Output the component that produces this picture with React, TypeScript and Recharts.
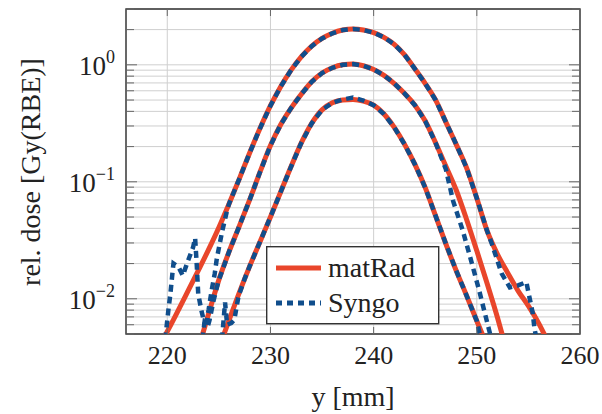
import React from 'react';
import { LineChart, Line, XAxis, YAxis, CartesianGrid, ReferenceArea } from 'recharts';

// lateral position y [mm] -> rel. dose [Gy(RBE)]
const xTicks = [220, 230, 240, 250, 260];
const yTicks = [
  0.005, 0.006, 0.007, 0.008, 0.009,
  0.01, 0.02, 0.03, 0.04, 0.05, 0.06, 0.07, 0.08, 0.09,
  0.1, 0.2, 0.3, 0.4, 0.5, 0.6, 0.7, 0.8, 0.9,
  1, 2, 3,
];
const decades = [0.01, 0.1, 1];
const decadeExp = ['\u22122', '\u22121', '0'];

const matRadHigh = [
  [219.5, 0.00437], [220, 0.00525], [221, 0.00776], [222, 0.0116], [223, 0.0174], [224, 0.0263],
  [225, 0.0407], [226, 0.0653], [227, 0.107], [228, 0.178], [229, 0.288], [230, 0.447],
  [231, 0.653], [232, 0.902], [233, 1.175], [234, 1.445], [235, 1.679], [236, 1.862], [237, 1.982],
  [238, 2.023], [239, 1.986], [240, 1.884], [241, 1.718], [242, 1.496], [243, 1.216], [244, 0.923],
  [245, 0.692], [246, 0.501], [247, 0.324], [248, 0.209], [249, 0.132], [250, 0.0724],
  [251, 0.038], [252, 0.024], [253, 0.0166], [254, 0.0117], [255, 0.0087], [256, 0.00617],
  [256.8, 0.00447],
];
const matRadMid = [
  [223.2, 0.00427], [224, 0.00741], [225, 0.0145], [226, 0.0254], [227, 0.0422], [228, 0.0708],
  [229, 0.122], [230, 0.204], [231, 0.309], [232, 0.427], [233, 0.562], [234, 0.716],
  [235, 0.851], [236, 0.944], [237, 1.0], [238, 1.014], [239, 0.982], [240, 0.912],
  [241, 0.813], [242, 0.692], [243, 0.569], [244, 0.452], [245, 0.331], [246, 0.216],
  [247, 0.136], [248, 0.0851], [249, 0.0479], [250, 0.0257], [251, 0.0135], [252, 0.00692],
  [252.6, 0.00447],
];
const matRadLow = [
  [225.3, 0.00447], [226, 0.0066], [227, 0.0114], [228, 0.0191], [229, 0.0309], [230, 0.0501],
  [231, 0.0822], [232, 0.135], [233, 0.216], [234, 0.316], [235, 0.412], [236, 0.473],
  [237, 0.501], [238, 0.506], [239, 0.49], [240, 0.452], [241, 0.38], [242, 0.292],
  [243, 0.209], [244, 0.141], [245, 0.0891], [246, 0.0513], [247, 0.0295], [248, 0.0174],
  [249, 0.0107], [250, 0.00646], [250.8, 0.00437],
];

const syngoHigh = [
  [219.8, 0.0045], [220.1, 0.0079], [220.3, 0.011], [220.5, 0.0165], [220.6, 0.02], [221.1, 0.0186],
  [221.5, 0.0158], [222, 0.021], [222.5, 0.0275], [222.7, 0.033], [222.85, 0.02], [223, 0.011],
  [223.3, 0.008], [223.6, 0.0062], [223.8, 0.0065], [224, 0.008], [224.3, 0.0118], [224.6, 0.0164],
  [224.8, 0.022], [225.3, 0.037], [225.8, 0.057], [226, 0.0653], [227, 0.107], [228, 0.178],
  [229, 0.288], [230, 0.447], [231, 0.653], [232, 0.902], [233, 1.175], [234, 1.445], [235, 1.679],
  [236, 1.862], [237, 1.982], [238, 2.023], [239, 1.986], [240, 1.884], [241, 1.718], [242, 1.496],
  [243, 1.216], [244, 0.923], [245, 0.692], [246, 0.501], [247, 0.324], [248, 0.209], [249, 0.132],
  [250, 0.0724], [251, 0.038], [251.4, 0.0305], [252.4, 0.0165], [253.2, 0.0125], [254, 0.013],
  [254.8, 0.0139], [255.1, 0.0103], [255.4, 0.0077], [255.6, 0.0055], [255.8, 0.0045],
];
const syngoMid = [
  [223.4, 0.0045], [223.6, 0.0062], [223.9, 0.0057], [224.1, 0.0066], [224.5, 0.0098], [225, 0.0145],
  [226, 0.0254], [227, 0.0422], [228, 0.0708], [229, 0.122], [230, 0.204], [231, 0.309],
  [232, 0.427], [233, 0.562], [234, 0.716], [235, 0.851], [236, 0.944], [237, 1.0], [238, 1.014],
  [239, 0.982], [240, 0.912], [241, 0.813], [242, 0.692], [243, 0.569], [244, 0.452],
  [245, 0.331], [246, 0.216], [247, 0.128], [247.7, 0.0687], [248.65, 0.038], [249.46, 0.021],
  [250.27, 0.0114], [250.75, 0.0077], [251.24, 0.0052], [251.4, 0.0045],
];
const syngoLow = [
  [225.3, 0.0045], [225.6, 0.0093], [225.8, 0.006], [226.2, 0.0062], [226.5, 0.0066], [226.9, 0.0105],
  [227.5, 0.0148], [228, 0.0191], [229, 0.0309], [230, 0.0501], [231, 0.0822], [232, 0.135],
  [233, 0.216], [234, 0.316], [235, 0.412], [236, 0.473], [237, 0.505], [238, 0.525],
  [239, 0.495], [240, 0.452], [241, 0.38], [242, 0.292], [243, 0.209], [244, 0.141],
  [245, 0.0891], [246, 0.0513], [247, 0.0295], [248, 0.0174], [249, 0.0107], [250, 0.00646],
  [250.4, 0.0045],
];

const RED = '#E9462B';
const BLUE = '#104E8C';
const FONT = '"Liberation Serif", "DejaVu Serif", serif';

const PLOT_LEFT = 126;
const PLOT_RIGHT = 580;
const PLOT_TOP = 9;
const PLOT_BOTTOM = 334;

const toPoints = (pts: number[][]) => pts.map(([y, dose]) => ({ y, dose }));

function YTick(props: any) {
  const { y, payload } = props;
  const idx = decades.findIndex((d) => Math.abs(d - payload.value) < 1e-9);
  const len = idx >= 0 ? 11 : 8;
  return (
    <g>
      <line x1={PLOT_LEFT} x2={PLOT_LEFT + len} y1={y} y2={y} stroke="#666" strokeWidth={1} />
      <line x1={PLOT_RIGHT - len} x2={PLOT_RIGHT} y1={y} y2={y} stroke="#666" strokeWidth={1} />
      {idx >= 0 && (
        <text x={115} y={y + 10} textAnchor="end" fontFamily={FONT} fontSize={27} fill="#222">
          10
          <tspan dy={-12} fontSize={18}>{decadeExp[idx]}</tspan>
        </text>
      )}
    </g>
  );
}

function XTick(props: any) {
  const { x, payload } = props;
  return (
    <g>
      <line x1={x} x2={x} y1={PLOT_BOTTOM - 7} y2={PLOT_BOTTOM} stroke="#666" />
      <line x1={x} x2={x} y1={PLOT_TOP} y2={PLOT_TOP + 7} stroke="#666" />
      <text x={x} y={PLOT_BOTTOM + 30} textAnchor="middle" fontFamily={FONT} fontSize={26} fill="#222">
        {payload.value}
      </text>
    </g>
  );
}

function LegendBox() {
  return (
    <svg width={175} height={80} style={{ display: 'block' }}>
      <rect x={0.7} y={0.7} width={172} height={77} fill="#fff" stroke="#333" strokeWidth={1.4} />
      <line x1={10} x2={55} y1={22} y2={22} stroke={RED} strokeWidth={5} />
      <text x={62} y={31} fontFamily={FONT} fontSize={28} fill="#222">matRad</text>
      <line x1={10} x2={55} y1={57} y2={57} stroke={BLUE} strokeWidth={5} strokeDasharray="6 5" />
      <text x={62} y={66} fontFamily={FONT} fontSize={28} fill="#222">Syngo</text>
    </svg>
  );
}

export default function App() {
  return (
    <div style={{ position: 'absolute', left: 0, top: 0, width: 602, height: 414, background: '#fff' }}>
      <LineChart width={602} height={414} margin={{ top: PLOT_TOP, right: 602 - PLOT_RIGHT, bottom: 0, left: 0 }}>
        <CartesianGrid stroke="#cfcfcf" strokeWidth={1} />
        <XAxis
          dataKey="y"
          type="number"
          domain={[216, 260]}
          allowDataOverflow
          ticks={xTicks}
          interval={0}
          axisLine={false}
          tickLine={false}
          tick={<XTick />}
          height={414 - PLOT_BOTTOM}
        />
        <YAxis
          scale="log"
          type="number"
          domain={[0.005, 3]}
          allowDataOverflow
          ticks={yTicks}
          interval={0}
          axisLine={false}
          tickLine={false}
          tick={<YTick />}
          width={PLOT_LEFT}
        />
        <Line data={toPoints(matRadHigh)} dataKey="dose" type="monotoneX" stroke={RED} strokeWidth={5} dot={false} isAnimationActive={false} />
        <Line data={toPoints(matRadMid)} dataKey="dose" type="monotoneX" stroke={RED} strokeWidth={5} dot={false} isAnimationActive={false} />
        <Line data={toPoints(matRadLow)} dataKey="dose" type="monotoneX" stroke={RED} strokeWidth={5} dot={false} isAnimationActive={false} />
        <Line data={toPoints(syngoHigh)} dataKey="dose" type="linear" stroke={BLUE} strokeWidth={4.5} strokeDasharray="7 5" dot={false} isAnimationActive={false} />
        <Line data={toPoints(syngoMid)} dataKey="dose" type="linear" stroke={BLUE} strokeWidth={4.5} strokeDasharray="7 5" dot={false} isAnimationActive={false} />
        <Line data={toPoints(syngoLow)} dataKey="dose" type="linear" stroke={BLUE} strokeWidth={4.5} strokeDasharray="7 5" dot={false} isAnimationActive={false} />
        <ReferenceArea x1={216} x2={260} y1={0.005} y2={3} fill="none" stroke="#333" strokeWidth={1.4} ifOverflow="visible" />
      </LineChart>
      <div style={{ position: 'absolute', left: 266, top: 246 }}>
        <LegendBox />
      </div>
      <div
        style={{
          position: 'absolute', left: 353, top: 397, transform: 'translate(-50%, -50%)',
          fontFamily: FONT, fontSize: 28, color: '#222', whiteSpace: 'nowrap',
        }}
      >
        y [mm]
      </div>
      <div
        style={{
          position: 'absolute', left: 31, top: 172, transform: 'translate(-50%, -50%) rotate(-90deg)',
          fontFamily: FONT, fontSize: 28, color: '#222', whiteSpace: 'nowrap',
        }}
      >
        rel. dose [Gy(RBE)]
      </div>
    </div>
  );
}
